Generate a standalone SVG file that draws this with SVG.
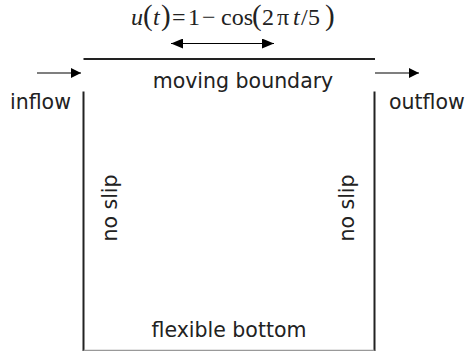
<svg xmlns="http://www.w3.org/2000/svg" width="466" height="351" viewBox="0 0 466 351">
<defs>
<marker id="ah" markerWidth="10" markerHeight="10" refX="10" refY="5" orient="auto" markerUnits="userSpaceOnUse">
<path d="M0,0 L10,5 L0,10 Z" fill="#000"/>
</marker>
<marker id="ahs" markerWidth="12" markerHeight="10" refX="0" refY="5" orient="auto" markerUnits="userSpaceOnUse">
<path d="M12,0 L0,5 L12,10 Z" fill="#000"/>
</marker>
<marker id="ahe" markerWidth="12" markerHeight="10" refX="12" refY="5" orient="auto" markerUnits="userSpaceOnUse">
<path d="M0,0 L12,5 L0,10 Z" fill="#000"/>
</marker>
</defs>
<style>
.lbl{font-family:"DejaVu Sans","Liberation Sans",sans-serif;font-size:20.5px;fill:#222}
.f{font-family:"Liberation Serif","DejaVu Serif",serif;font-size:24px;fill:#222}
.p{font-size:29px}
.i{font-style:italic}
.wall{stroke:#222;stroke-width:2;fill:none}
.conn{stroke:#000;stroke-width:1.2;fill:none}
</style>
<rect width="466" height="351" fill="#fff"/>
<g id="boundary">
<line class="wall" x1="83.5" y1="59" x2="375" y2="59"/>
<line class="wall" x1="83.5" y1="91.5" x2="83.5" y2="351"/>
<line class="wall" x1="374.5" y1="91.5" x2="374.5" y2="351"/>
<line x1="83.5" y1="350.5" x2="374.5" y2="350.5" stroke="#999" stroke-width="1.5"/>
</g>
<g id="connectors">
<line class="conn" x1="37" y1="73" x2="81" y2="73" marker-end="url(#ah)"/>
<line class="conn" x1="375" y1="73" x2="419" y2="73" marker-end="url(#ah)"/>
<line class="conn" x1="171" y1="43.5" x2="274" y2="43.5" marker-start="url(#ahs)" marker-end="url(#ahe)"/>
</g>
<g id="formula">
<text class="f" y="25"><tspan x="131" class="i">u</tspan><tspan x="143" class="p">(</tspan><tspan x="153" class="i">t</tspan><tspan x="161" class="p">)</tspan><tspan x="172">=</tspan><tspan x="188">1</tspan><tspan x="202">−</tspan><tspan x="221">cos</tspan><tspan x="252" class="p">(</tspan><tspan x="262">2</tspan><tspan x="277">π</tspan><tspan x="293" class="i">t</tspan><tspan x="301">/</tspan><tspan x="308">5</tspan><tspan x="325" class="p">)</tspan></text>
</g>
<g id="inflow"><text class="lbl" x="10" y="109">inflow</text></g>
<g id="outflow"><text class="lbl" x="389" y="109">outflow</text></g>
<g id="moving-boundary"><text class="lbl" x="243" y="88" text-anchor="middle">moving boundary</text></g>
<g id="flexible-bottom"><text class="lbl" x="229" y="337" text-anchor="middle">flexible bottom</text></g>
<g id="noslip-left"><text class="lbl" transform="translate(117,208) rotate(-90)" text-anchor="middle">no slip</text></g>
<g id="noslip-right"><text class="lbl" transform="translate(354,208) rotate(-90)" text-anchor="middle">no slip</text></g>
</svg>
